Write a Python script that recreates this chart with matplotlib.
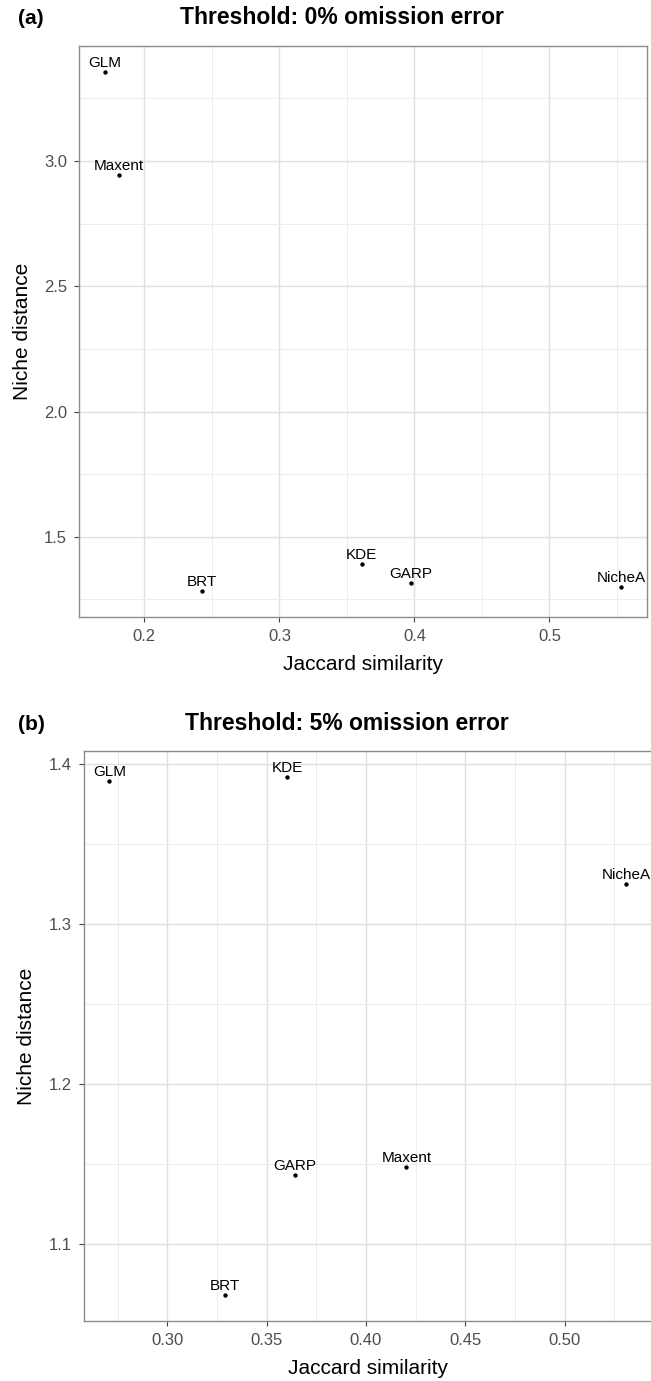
#!/usr/bin/env python3
# -*- coding: utf-8 -*-

import matplotlib
matplotlib.use('Agg')
import matplotlib.pyplot as plt
from matplotlib.ticker import MultipleLocator, FormatStrFormatter

plt.rcParams['font.family'] = ['Liberation Sans', 'DejaVu Sans']

# data
models_a = ["GLM", "Maxent", "BRT", "KDE", "GARP", "NicheA"]
jaccard_a = [0.1707, 0.181, 0.2426, 0.3608, 0.3972, 0.5531]
niche_a = [3.356, 2.944, 1.283, 1.392, 1.316, 1.299]

models_b = ["GLM", "KDE", "NicheA", "GARP", "Maxent", "BRT"]
jaccard_b = [0.2708, 0.3603, 0.5310, 0.3641, 0.4204, 0.3292]
niche_b = [1.3895, 1.3918, 1.3251, 1.1429, 1.1479, 1.0678]

W, H = 651, 1381
fig = plt.figure(figsize=(W / 100, H / 100), dpi=100)


def panel(rect, xs, ys, names, xmaj, ymaj, xfmt, yfmt):
    ax = fig.add_axes(rect)
    ax.scatter(xs, ys, s=10, color='black', zorder=3, linewidths=0)
    # model names sit just above each point
    for x, y, n in zip(xs, ys, names):
        ax.annotate(n, (x, y), xytext=(0, 3.6), textcoords='offset points',
                    ha='center', va='baseline', fontsize=11, color='black', zorder=4)
    ax.margins(0.05)
    ax.xaxis.set_major_locator(MultipleLocator(xmaj))
    ax.xaxis.set_minor_locator(MultipleLocator(xmaj / 2))
    ax.yaxis.set_major_locator(MultipleLocator(ymaj))
    ax.yaxis.set_minor_locator(MultipleLocator(ymaj / 2))
    ax.xaxis.set_major_formatter(FormatStrFormatter(xfmt))
    ax.yaxis.set_major_formatter(FormatStrFormatter(yfmt))
    ax.grid(which='major', color='#E0E0E0', lw=1.0)
    ax.grid(which='minor', color='#EDEDED', lw=0.7)
    ax.set_axisbelow(True)
    ax.tick_params(which='major', length=3.5, width=0.8, color='#444444',
                   labelsize=12, labelcolor='#4D4D4D', pad=5)
    ax.tick_params(which='minor', length=0)
    for s in ax.spines.values():
        s.set_color('#8C8C8C')
        s.set_linewidth(1.0)
    ax.set_xlabel("Jaccard similarity", fontsize=15, color='black')
    ax.set_ylabel("Niche distance", fontsize=15, color='black')
    ax.xaxis.label.set_va('center')
    ax.yaxis.label.set_va('center')
    ax.xaxis.set_label_coords(0.5, -0.084)
    ax.yaxis.set_label_coords(-0.10, 0.5)
    return ax


# panel (a)
axa = panel([79 / W, 1 - 617 / H, (647 - 79) / W, (617 - 46) / H],
            jaccard_a, niche_a, models_a, 0.1, 0.5, '%.1f', '%.1f')
fig.text(0.525, 1 - 18 / H, "Threshold: 0% omission error", fontsize=16.5,
         fontweight='bold', ha='center', va='center')
fig.text(0.048, 1 - 18 / H, "(a)", fontsize=15, fontweight='bold', ha='center', va='center')

# panel (b)
axb = panel([83.5 / W, 1 - 1321 / H, (652 - 83.5) / W, (1321 - 751) / H],
            jaccard_b, niche_b, models_b, 0.05, 0.1, '%.2f', '%.1f')
fig.text(0.533, 1 - 724 / H, "Threshold: 5% omission error", fontsize=16.5,
         fontweight='bold', ha='center', va='center')
fig.text(0.048, 1 - 724 / H, "(b)", fontsize=15, fontweight='bold', ha='center', va='center')

plt.savefig('out.png', dpi=100)
